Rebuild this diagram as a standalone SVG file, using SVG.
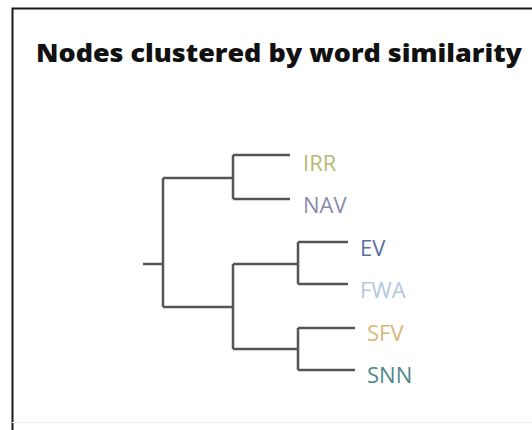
<svg xmlns="http://www.w3.org/2000/svg" width="532" height="430" viewBox="0 0 532 430">
<style>
.title{font-family:"Open Sans","Noto Sans","DejaVu Sans",sans-serif;font-weight:800;font-size:25px;fill:#111111}
.lbl{font-family:"Open Sans","Noto Sans","DejaVu Sans",sans-serif;font-size:22px}
.br{fill:none;stroke:#555555;stroke-width:2.5;stroke-linecap:butt}
</style>
<rect x="0" y="0" width="532" height="430" fill="#ffffff"/>
<path d="M12.5 431 V8.5 H533" fill="none" stroke="#1a1a1a" stroke-width="2"/>
<line x1="12" y1="422.5" x2="532" y2="422.5" stroke="#ececec" stroke-width="1"/>
<text class="title" x="36" y="62" textLength="486" lengthAdjust="spacingAndGlyphs">Nodes clustered by word similarity</text>
<g id="connectors">
<path class="br" d="M143 264 H163"/>
<path class="br" d="M163 178 V307"/>
<path class="br" d="M163 178 H233 M233 155 V199 M233 155 H290 M233 199 H290"/>
<path class="br" d="M163 307 H233 M233 264 V349"/>
<path class="br" d="M233 264 H298 M298 242 V284 M298 242 H348 M298 284 H348"/>
<path class="br" d="M233 349 H298 M298 328 V370 M298 328 H355 M298 370 H355"/>
</g>
<g id="node-IRR"><text class="lbl" x="303" y="171" fill="#b8b872">IRR</text></g>
<g id="node-NAV"><text class="lbl" x="303" y="213" fill="#8a8aae">NAV</text></g>
<g id="node-EV"><text class="lbl" x="360" y="256" fill="#5870a2">EV</text></g>
<g id="node-FWA"><text class="lbl" x="360" y="298" fill="#b2c8e0">FWA</text></g>
<g id="node-SFV"><text class="lbl" x="367" y="341" fill="#d8b878">SFV</text></g>
<g id="node-SNN"><text class="lbl" x="367" y="383" fill="#4b8a8c">SNN</text></g>
</svg>
